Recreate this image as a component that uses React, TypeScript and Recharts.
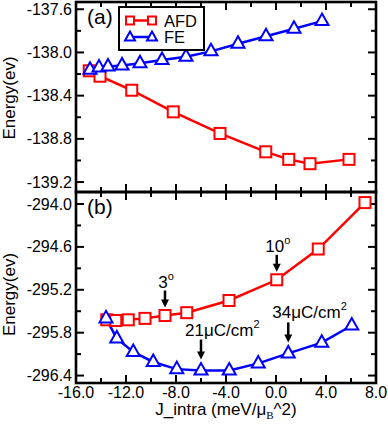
import React from 'react';
import { LineChart, Line, XAxis, YAxis, Legend, ReferenceDot, ReferenceArea } from 'recharts';

// x axis (J_intra), shared by both panels
const xTicks = [-16, -14, -12, -10, -8, -6, -4, -2, 0, 2, 4, 6, 8];
const xMajor = [-16, -12, -8, -4, 0, 4, 8];

// panel (a)
const topYTicks = [-139.2, -139.0, -138.8, -138.6, -138.4, -138.2, -138.0, -137.8, -137.6];
const topYMajor = [-139.2, -138.8, -138.4, -138.0, -137.6];
const topAfdJ = [-14.94, -14.08, -11.54, -8.22, -4.48, -0.82, 1.02, 2.72, 5.84];
const topAfdE = [-138.17, -138.22, -138.35, -138.55, -138.75, -138.92, -138.99, -139.03, -138.99];
const topFeJ = [-14.88, -14.16, -13.44, -12.32, -10.88, -9.12, -7.2, -5.2, -3.04, -0.8, 1.44, 3.68];
const topFeE = [-138.16, -138.14, -138.13, -138.12, -138.1, -138.07, -138.04, -137.99, -137.92, -137.85, -137.78, -137.71];

// panel (b)
const botYTicks = [-296.4, -296.1, -295.8, -295.5, -295.2, -294.9, -294.6, -294.3, -294.0];
const botYMajor = [-296.4, -295.8, -295.2, -294.6, -294.0];
const botAfdJ = [-13.54, -12.82, -11.82, -10.48, -8.88, -7.14, -3.76, 0.06, 3.38, 7.12];
const botAfdE = [-295.62, -295.63, -295.62, -295.6, -295.56, -295.52, -295.35, -295.06, -294.63, -293.98];
const botFeJ = [-13.6, -12.74, -11.42, -9.82, -7.94, -6.0, -3.74, -1.42, 0.98, 3.66, 6.06];
const botFeE = [-295.6, -295.88, -296.07, -296.21, -296.31, -296.33, -296.33, -296.23, -296.09, -295.94, -295.7];

// arrows in panel (b)
const noteJ = [-8.88, 0.06, -6.0, 0.98];
const noteE = [-295.56, -295.06, -296.33, -296.09];
const noteText = ['3', '10', '21\u03bcC/cm', '34\u03bcC/cm'];
const noteSup = ['o', 'o', '2', '2'];
const noteKind = ['angle', 'angle', 'pol', 'pol'];

const xDomain = [-16, 8];
const topDomain = [-139.292, -137.533];
const botDomain = [-296.504, -293.832];

const RED = '#ff0000';
const BLUE = '#0000ff';
const FONT = '"Liberation Sans", Arial, sans-serif';

const toRows = (js: number[], es: number[]) => js.map((j, i) => ({ j, e: es[i] }));

const topAfd = toRows(topAfdJ, topAfdE);
const topFe = toRows(topFeJ, topFeE);
const botAfd = toRows(botAfdJ, botAfdE);
const botFe = toRows(botFeJ, botFeE);

const Square = (props: any) => {
  const { cx, cy, index } = props;
  if (cx == null || cy == null) return null;
  return <rect key={`sq-${index}`} x={cx - 5.5} y={cy - 5.5} width={11} height={11} fill="#fff" stroke={RED} strokeWidth={2} />;
};

const Triangle = (props: any) => {
  const { cx, cy, index } = props;
  if (cx == null || cy == null) return null;
  const pts = `${cx},${cy - 7.5} ${cx - 6.5},${cy + 4} ${cx + 6.5},${cy + 4}`;
  return <polygon key={`tr-${index}`} points={pts} fill="#fff" stroke={BLUE} strokeWidth={2} />;
};

// tick labels only; the frame and its inward tick marks come from the reference area
const makeXLabel = (labels: boolean) => (props: any) => {
  const { x, y, payload, index } = props;
  if (!labels || !xMajor.includes(payload.value)) return <g key={`xl-${index}`} />;
  return (
    <text key={`xl-${index}`} x={x} y={Number(y) + 15} textAnchor="middle" fontSize={16} fontFamily={FONT} fill="#000">
      {payload.value.toFixed(1)}
    </text>
  );
};

const makeYLabel = (majors: number[]) => (props: any) => {
  const { x, y, payload, index } = props;
  if (!majors.includes(payload.value)) return <g key={`yl-${index}`} />;
  return (
    <text key={`yl-${index}`} x={Number(x) - 4} y={Number(y) + 5.5} textAnchor="end" fontSize={16} fontFamily={FONT} fill="#000">
      {payload.value.toFixed(1)}
    </text>
  );
};

const Frame = (props: any) => {
  const x = Number(props.x);
  const y = Number(props.y);
  const width = Number(props.width);
  const height = Number(props.height);
  const { yDomain, yTicks, yMajor } = props;
  if ([x, y, width, height].some((v) => !Number.isFinite(v))) return null;
  const px = (t: number) => x + ((t - xDomain[0]) / (xDomain[1] - xDomain[0])) * width;
  const py = (t: number) => y + ((yDomain[1] - t) / (yDomain[1] - yDomain[0])) * height;
  const marks: string[] = [];
  xTicks.forEach((t) => {
    const len = xMajor.includes(t) ? 8 : 5;
    const X = px(t);
    marks.push(`M${X} ${y}L${X} ${y + len}`, `M${X} ${y + height}L${X} ${y + height - len}`);
  });
  yTicks.forEach((t) => {
    const len = yMajor.includes(t) ? 8 : 5;
    const Y = py(t);
    marks.push(`M${x} ${Y}L${x + len} ${Y}`, `M${x + width} ${Y}L${x + width - len} ${Y}`);
  });
  return (
    <g>
      {marks.map((d, i) => (
        <path key={`m-${i}`} d={d} stroke="#000" strokeWidth={2} fill="none" />
      ))}
      <rect x={x} y={y} width={width} height={height} fill="none" stroke="#000" strokeWidth={2.6} />
    </g>
  );
};

// y title plus the panel tag in the top-left corner of the plot
const EnergyTitle = (props: any) => {
  const { viewBox, shift, tag } = props;
  if (!viewBox) return null;
  const cx = 15;
  const cy = viewBox.y + viewBox.height / 2 + (shift || 0);
  return (
    <g>
      <text x={cx} y={cy} transform={`rotate(-90 ${cx} ${cy})`} textAnchor="middle" fontSize={17} fontFamily={FONT} fill="#000">
        Energy(ev)
      </text>
      <text x={viewBox.x + viewBox.width + 11} y={viewBox.y + 21.5} fontSize={21} fontFamily={FONT} fill="#000">
        {tag}
      </text>
    </g>
  );
};

const JTitle = (props: any) => {
  const { viewBox } = props;
  if (!viewBox) return null;
  return (
    <text x={viewBox.x + viewBox.width / 2} y={415} textAnchor="middle" fontSize={17} fontFamily={FONT} fill="#000">
      J_intra (meV/{'\u03bc'}
      <tspan dy={4} fontSize={11} fontFamily='"Liberation Serif", serif'>B</tspan>
      <tspan dy={-4}>^2)</tspan>
    </text>
  );
};

const LegendBox = (props: any) => {
  const items = props.payload || [];
  return (
    <svg width={87} height={45} style={{ display: 'block' }}>
      <rect x={1} y={1} width={85} height={43} fill="#fff" stroke="#000" strokeWidth={2} />
      {items.map((it: any, i: number) => {
        const y = 14.5 + i * 16.5;
        const isAfd = it.value === 'AFD';
        return (
          <g key={it.value}>
            <path d={`M12,${y} L34,${y}`} stroke={it.color} strokeWidth={2.5} />
            {isAfd ? (
              <>
                <rect x={8} y={y - 4} width={8} height={8} fill="#fff" stroke={RED} strokeWidth={2} />
                <rect x={30} y={y - 4} width={8} height={8} fill="#fff" stroke={RED} strokeWidth={2} />
              </>
            ) : (
              <>
                <polygon points={`12,${y - 5.5} 7,${y + 3.5} 17,${y + 3.5}`} fill="#fff" stroke={BLUE} strokeWidth={2} />
                <polygon points={`34,${y - 5.5} 29,${y + 3.5} 39,${y + 3.5}`} fill="#fff" stroke={BLUE} strokeWidth={2} />
              </>
            )}
            <text x={46} y={y + 6} fontSize={16.5} fontFamily={FONT} fill="#000">
              {it.value}
            </text>
          </g>
        );
      })}
    </svg>
  );
};

const Pointer = ({ cx, cy, i }: any) => {
  if (cx == null || cy == null) return null;
  const angle = noteKind[i] === 'angle';
  const textY = angle ? cy - 28 : cy - 35;
  const top = angle ? cy - 25 : cy - 31;
  const tip = angle ? cy - 8 : cy - 11;
  return (
    <g>
      <path d={`M${cx},${top} L${cx},${tip - 6}`} stroke="#000" strokeWidth={2.5} />
      <polygon points={`${cx - 4},${tip - 8} ${cx + 4},${tip - 8} ${cx},${tip}`} fill="#000" />
      <text
        x={angle ? cx + 1 : cx - 16}
        y={textY}
        textAnchor={angle ? 'middle' : 'start'}
        fontSize={17}
        fontFamily={FONT}
        fill="#000"
      >
        {noteText[i]}
        <tspan dy={-8} fontSize={11}>{noteSup[i]}</tspan>
      </text>
    </g>
  );
};

const App = () => {
  return (
    <div style={{ position: 'absolute', left: 0, top: 0, width: 388, height: 428, background: '#fff' }}>
      {/* panel (a) */}
      <div style={{ position: 'absolute', left: 0, top: 0 }}>
        <LineChart width={388} height={428} margin={{ top: 2, right: 12, bottom: 236, left: 0 }}>
          <XAxis
            xAxisId="b"
            dataKey="j"
            type="number"
            domain={xDomain}
            ticks={xTicks}
            interval={0}
            allowDataOverflow
            height={0}
            tickSize={0}
            tickMargin={0}
            tickLine={false}
            axisLine={false}
            tick={makeXLabel(false)}
          />
          <YAxis
            yAxisId="l"
            type="number"
            domain={topDomain}
            ticks={topYTicks}
            interval={0}
            allowDataOverflow
            width={76}
            tickSize={0}
            tickMargin={0}
            tickLine={false}
            axisLine={false}
            tick={makeYLabel(topYMajor)}
            label={<EnergyTitle shift={1} tag="(a)" />}
          />
          <ReferenceArea
            xAxisId="b"
            yAxisId="l"
            x1={xDomain[0]}
            x2={xDomain[1]}
            y1={topDomain[0]}
            y2={topDomain[1]}
            ifOverflow="visible"
            shape={(p: any) => <Frame {...p} yDomain={topDomain} yTicks={topYTicks} yMajor={topYMajor} />}
          />
          <Legend
            layout="vertical"
            align="center"
            verticalAlign="middle"
            content={<LegendBox />}
            wrapperStyle={{ position: 'absolute', left: 118, top: 6, width: 87, height: 45 }}
          />
          <Line
            xAxisId="b"
            yAxisId="l"
            data={topAfd}
            dataKey="e"
            name="AFD"
            type="linear"
            stroke={RED}
            strokeWidth={2.5}
            dot={Square}
            activeDot={false}
            isAnimationActive={false}
          />
          <Line
            xAxisId="b"
            yAxisId="l"
            data={topFe}
            dataKey="e"
            name="FE"
            type="linear"
            stroke={BLUE}
            strokeWidth={2.5}
            dot={Triangle}
            activeDot={false}
            isAnimationActive={false}
          />
        </LineChart>
      </div>

      {/* panel (b) */}
      <div style={{ position: 'absolute', left: 0, top: 0 }}>
        <LineChart width={388} height={428} margin={{ top: 192, right: 12, bottom: 0, left: 0 }}>
          <XAxis
            xAxisId="b"
            dataKey="j"
            type="number"
            domain={xDomain}
            ticks={xTicks}
            interval={0}
            allowDataOverflow
            height={45}
            tickSize={0}
            tickMargin={0}
            tickLine={false}
            axisLine={false}
            tick={makeXLabel(true)}
            label={<JTitle />}
          />
          <YAxis
            yAxisId="l"
            type="number"
            domain={botDomain}
            ticks={botYTicks}
            interval={0}
            allowDataOverflow
            width={76}
            tickSize={0}
            tickMargin={0}
            tickLine={false}
            axisLine={false}
            tick={makeYLabel(botYMajor)}
            label={<EnergyTitle shift={7} tag="(b)" />}
          />
          <ReferenceArea
            xAxisId="b"
            yAxisId="l"
            x1={xDomain[0]}
            x2={xDomain[1]}
            y1={botDomain[0]}
            y2={botDomain[1]}
            ifOverflow="visible"
            shape={(p: any) => <Frame {...p} yDomain={botDomain} yTicks={botYTicks} yMajor={botYMajor} />}
          />
          <Line
            xAxisId="b"
            yAxisId="l"
            data={botAfd}
            dataKey="e"
            name="AFD"
            type="linear"
            stroke={RED}
            strokeWidth={2.5}
            dot={Square}
            activeDot={false}
            isAnimationActive={false}
          />
          <Line
            xAxisId="b"
            yAxisId="l"
            data={botFe}
            dataKey="e"
            name="FE"
            type="linear"
            stroke={BLUE}
            strokeWidth={2.5}
            dot={Triangle}
            activeDot={false}
            isAnimationActive={false}
          />
          {noteJ.map((j, i) => (
            <ReferenceDot
              key={`note-${i}`}
              xAxisId="b"
              yAxisId="l"
              x={j}
              y={noteE[i]}
              r={0}
              ifOverflow="visible"
              shape={(p: any) => <Pointer cx={p.cx} cy={p.cy} i={i} />}
            />
          ))}
        </LineChart>
      </div>
    </div>
  );
};

export default App;
